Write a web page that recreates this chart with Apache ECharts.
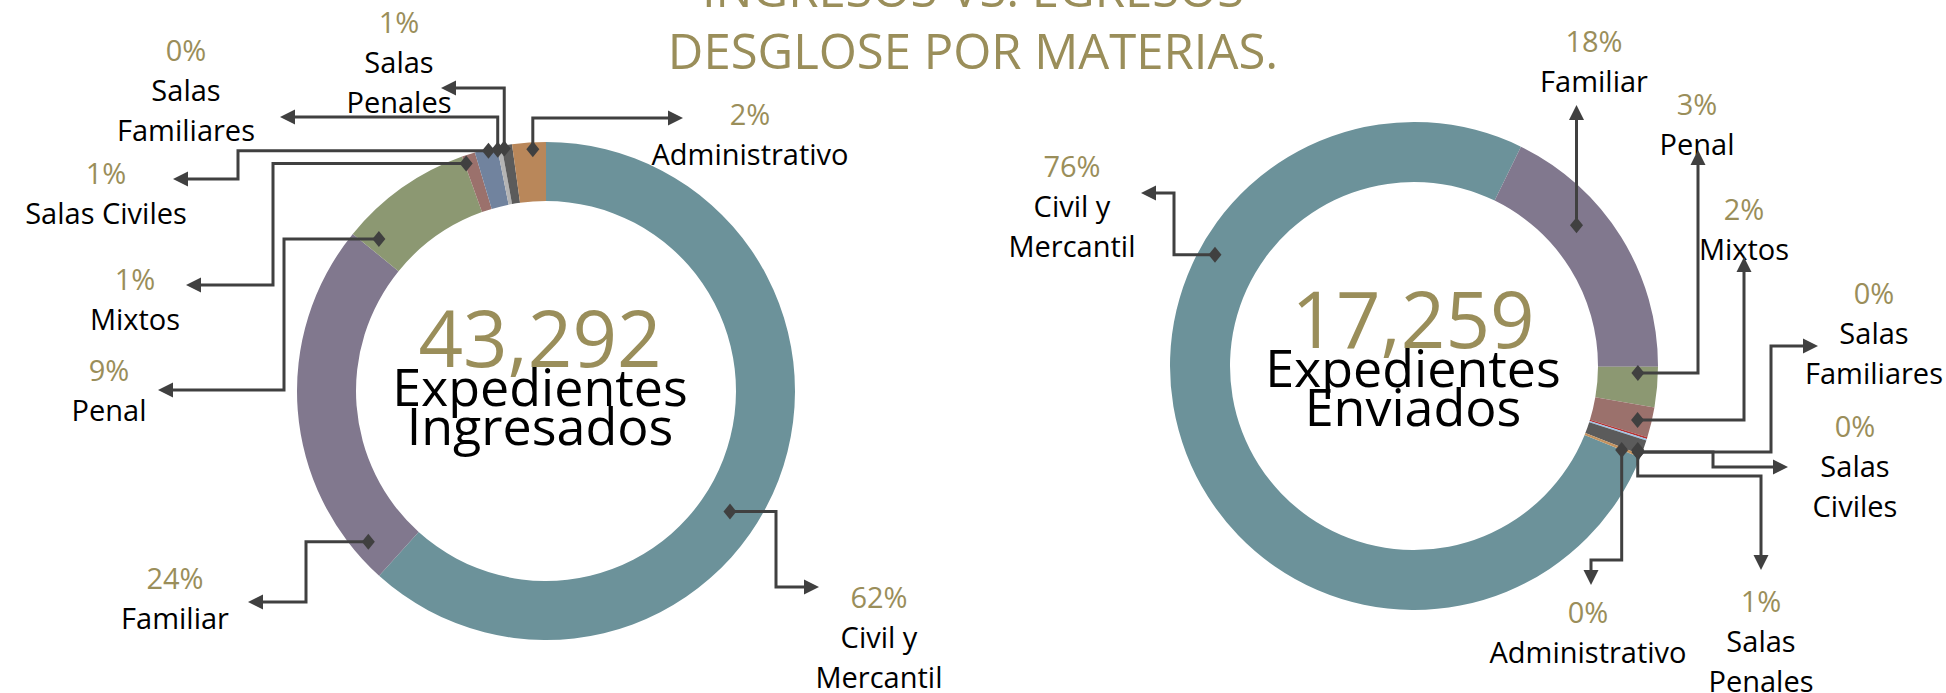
<!DOCTYPE html>
<html>
<head>
<meta charset="utf-8">
<script src="https://cdn.jsdelivr.net/npm/echarts@6/dist/echarts.min.js"></script>
<style>
  html, body { margin: 0; padding: 0; background: #fff; }
  #chart { width: 1946px; height: 693px; }
</style>
</head>
<body>
<div id="chart"></div>
<script>
// datos
var materias = ['Civil y Mercantil', 'Familiar', 'Penal', 'Mixtos', 'Salas Civiles', 'Salas Familiares', 'Salas Penales', 'Administrativo'];
var ingresados = [26707, 10464, 3753, 372, 632, 126, 294, 944];
var enviados = [13136, 3078, 460, 345, 19, 19, 173, 29];
var titulo = ['INGRESOS VS. EGRESOS', 'DESGLOSE POR MATERIAS.'];

// colores
var coloresIng = ['#6C929A', '#81788E', '#8C9872', '#9B716C', '#71839E', '#B4B4B4', '#5B5B5B', '#B9875A'];
var coloresEnv = ['#6C929A', '#81788E', '#8C9872', '#9B716C', '#B33232', '#9DC3E6', '#5B5B5B', '#C4925E'];

var FONT = '"Open Sans", sans-serif';
var OLIVA = '#9A8E5A';
var LINEA = '#404040';

// geometria de las donas (px), start = grados desde arriba, sentido horario
var donaIng = { cx: 546, cy: 391, r0: 190, r1: 249, start: 0 };
var donaEnv = { cx: 1414, cy: 366, r0: 184, r1: 244, start: 112 };

// etiquetas: [x centro, y arriba, partir en dos lineas]
var etqIng = [[879, 576, 1], [175, 557, 0], [109, 349, 0], [135, 258, 0], [106, 152, 0], [186, 29, 1], [399, 1, 1], [750, 93, 0]];
var etqEnv = [[1072, 145, 1], [1594, 20, 0], [1697, 83, 0], [1744, 188, 0], [1855, 405, 1], [1874, 272, 1], [1761, 580, 1], [1588, 591, 0]];

// lineas guia: ancla [desfase angular respecto al centro del sector, radio] + recorrido
var guiaIng = [
  { a: [12.2, 220], r: [['h', 776], ['v', 587], ['h', 819]] },
  { a: [-35.9, 233], r: [['h', 306], ['v', 602], ['h', 248]] },
  { a: [-12.4, 226], r: [['h', 284], ['v', 390], ['h', 158]] },
  { a: [-1.2, 241], r: [['h', 273], ['v', 285], ['h', 186]] },
  { a: [0.5, 247], r: [['h', 238], ['v', 179], ['h', 173]] },
  { a: [-0.5, 246], r: [['v', 117], ['h', 280]] },
  { a: [-0.7, 246], r: [['v', 88], ['h', 441]] },
  { a: [0.8, 242], r: [['v', 118], ['h', 683]] }
];
var guiaEnv = [
  { a: [50.2, 228], r: [['h', 1174], ['v', 193], ['h', 1141]] },
  { a: [-9, 215], r: [['v', 105]] },
  { a: [-3.2, 224], r: [['h', 1698], ['v', 150]] },
  { a: [0.2, 230], r: [['h', 1744], ['v', 257]] },
  { a: [3.8, 240], r: [['h', 1713], ['v', 467], ['h', 1788]] },
  { a: [3.4, 240], r: [['h', 1771], ['v', 346], ['h', 1818]] },
  { a: [1.0, 239], r: [['v', 476], ['h', 1761], ['v', 570]] },
  { a: [0.3, 224], r: [['v', 560], ['h', 1591], ['v', 585]] }
];

function suma(arr) {
  return arr.reduce(function (s, v) { return s + v; }, 0);
}

function partir(nombre, wrap) {
  if (!wrap) return [nombre];
  var k = nombre.lastIndexOf(' ');
  return [nombre.slice(0, k), nombre.slice(k + 1)];
}

function serieDona(valores, colores, dona, etq) {
  var total = suma(valores);
  return {
    type: 'pie',
    silent: true,
    center: [dona.cx, dona.cy],
    radius: [dona.r0, dona.r1],
    startAngle: 90 - dona.start,
    clockwise: true,
    avoidLabelOverlap: false,
    itemStyle: { borderWidth: 0 },
    emphasis: { disabled: true },
    data: materias.map(function (m, i) {
      return { name: m, value: valores[i], itemStyle: { color: colores[i] } };
    }),
    label: {
      show: true,
      position: 'outside',
      fontFamily: FONT,
      formatter: function (p) {
        var pct = Math.round(p.value / total * 100) + '%';
        var lineas = partir(p.name, etq[p.dataIndex][2]);
        return ['{p|' + pct + '}'].concat(lineas.map(function (l) { return '{n|' + l + '}'; })).join('\n');
      },
      rich: {
        p: { color: OLIVA, fontSize: 29, lineHeight: 40, fontFamily: FONT, align: 'center' },
        n: { color: '#000', fontSize: 29, lineHeight: 40, fontFamily: FONT, align: 'center' }
      }
    },
    labelLine: { show: false },
    labelLayout: function (p) {
      var e = etq[p.dataIndex];
      return { x: e[0], y: e[1], align: 'center', verticalAlign: 'top' };
    }
  };
}

// lineas guia con rombo en el sector y flecha en la etiqueta
function guias(valores, dona, guia) {
  var total = suma(valores);
  var acc = 0;
  var out = [];
  valores.forEach(function (v, i) {
    var mid = dona.start + (acc + v / 2) / total * 360;
    acc += v;
    var ang = (mid + guia[i].a[0]) * Math.PI / 180;
    var rr = guia[i].a[1];
    var x = dona.cx + rr * Math.sin(ang);
    var y = dona.cy - rr * Math.cos(ang);
    var pts = [[x, y]];
    guia[i].r.forEach(function (s) {
      var last = pts[pts.length - 1];
      pts.push(s[0] === 'h' ? [s[1], last[1]] : [last[0], s[1]]);
    });
    var tip = pts[pts.length - 1];
    var prev = pts[pts.length - 2];
    var dx = Math.sign(tip[0] - prev[0]), dy = Math.sign(tip[1] - prev[1]);
    var L = 15, W = 7.5;
    var base = [tip[0] - dx * L, tip[1] - dy * L];
    var linea = pts.slice(0, -1).concat([[base[0] + dx * 2, base[1] + dy * 2]]);
    out.push({
      type: 'polyline', z: 20, silent: true,
      shape: { points: linea },
      style: { stroke: LINEA, lineWidth: 3, fill: null }
    });
    out.push({
      type: 'polygon', z: 21, silent: true,
      shape: { points: [tip, [base[0] - dy * W, base[1] + dx * W], [base[0] + dy * W, base[1] - dx * W]] },
      style: { fill: LINEA }
    });
    out.push({
      type: 'polygon', z: 21, silent: true,
      shape: { points: [[x, y - 8], [x + 6.5, y], [x, y + 8], [x - 6.5, y]] },
      style: { fill: LINEA }
    });
  });
  return out;
}

function textoCentro(dona, total, linea1, linea2, dx, dyNum) {
  var x = dona.cx + dx;
  return [
    { type: 'text', z: 30, silent: true, x: x, y: dona.cy + dyNum,
      style: { text: total.toLocaleString('en-US'), fill: OLIVA, font: '78px ' + FONT, align: 'center', verticalAlign: 'middle' } },
    { type: 'text', z: 30, silent: true, x: x, y: dona.cy + dyNum + 48,
      style: { text: linea1, fill: '#000', font: '52px ' + FONT, align: 'center', verticalAlign: 'middle' } },
    { type: 'text', z: 30, silent: true, x: x, y: dona.cy + dyNum + 87,
      style: { text: linea2, fill: '#000', font: '52px ' + FONT, align: 'center', verticalAlign: 'middle' } }
  ];
}

// titulo: la primera linea queda cortada por el borde superior
var tituloGraf = titulo.map(function (t, i) {
  return { type: 'text', z: 30, silent: true, x: 973, y: -12 + i * 62,
    style: { text: t, fill: OLIVA, font: '49px ' + FONT, align: 'center', verticalAlign: 'middle' } };
});

var chart = echarts.init(document.getElementById('chart'), null, { renderer: 'svg' });

var graficos = []
  .concat(guias(ingresados, donaIng, guiaIng))
  .concat(guias(enviados, donaEnv, guiaEnv))
  .concat(textoCentro(donaIng, suma(ingresados), 'Expedientes', 'Ingresados', -6, -54))
  .concat(textoCentro(donaEnv, suma(enviados), 'Expedientes', 'Enviados', -1, -48))
  .concat(tituloGraf);

chart.setOption({
  backgroundColor: '#fff',
  animation: false,
  series: [
    serieDona(ingresados, coloresIng, donaIng, etqIng),
    serieDona(enviados, coloresEnv, donaEnv, etqEnv)
  ],
  graphic: graficos
});
</script>
</body>
</html>
